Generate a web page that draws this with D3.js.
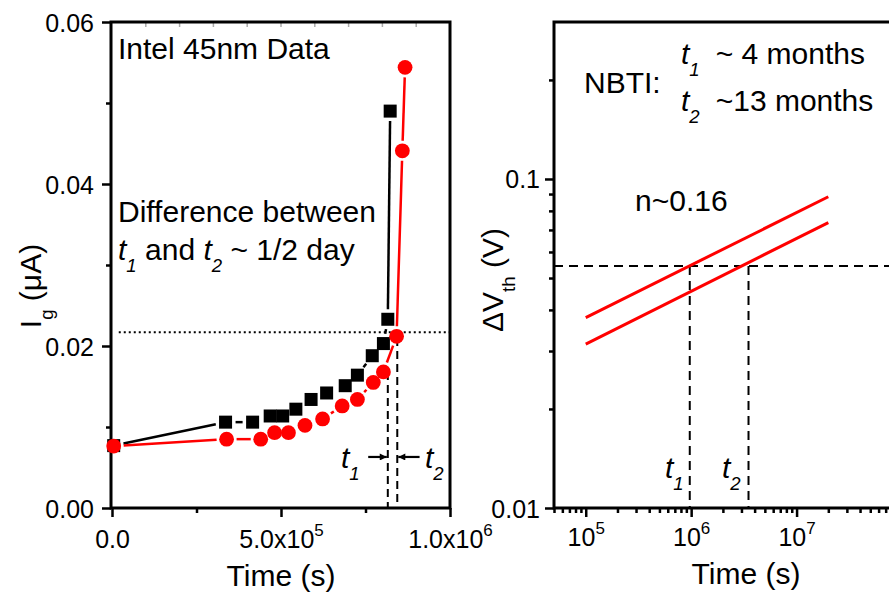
<!DOCTYPE html>
<html>
<head>
<meta charset="utf-8">
<script src="https://cdn.jsdelivr.net/npm/d3@7"></script>
<style>
body { margin: 0; background: #fff; }
text { font-family: "Liberation Sans", Arial, sans-serif; fill: #000; }
</style>
</head>
<body>
<svg id="chart" width="889" height="592"></svg>
<script>
// left panel: gate current vs stress time (Intel 45nm)
var timeBlack = [5e3, 3.36e5, 4.16e5, 4.68e5, 5.05e5, 5.44e5, 5.89e5, 6.35e5, 6.9e5, 7.26e5, 7.7e5, 8.03e5, 8.16e5, 8.23e5];
var igBlack   = [0.0077, 0.0106, 0.0106, 0.01136, 0.01136, 0.0122, 0.0134, 0.0142, 0.0151, 0.0164, 0.0188, 0.0203, 0.0233, 0.0490];
var timeRed   = [5e3, 3.39e5, 4.4e5, 4.81e5, 5.22e5, 5.71e5, 6.23e5, 6.81e5, 7.26e5, 7.73e5, 8.03e5, 8.42e5, 8.59e5, 8.67e5];
var igRed     = [0.00765, 0.0085, 0.0085, 0.0093, 0.0093, 0.0102, 0.0110, 0.0126, 0.0134, 0.0155, 0.0168, 0.0212, 0.0441, 0.0544];
var igLevel = 0.0217;
var t1Left = 8.16e5, t2Left = 8.44e5;
var t1LeftTop = 0.0168, t2LeftTop = 0.0210;

var igTicks = [0, 0.02, 0.04, 0.06];
var igTickLabels = ["0.00", "0.02", "0.04", "0.06"];
var igMinor = [0.01, 0.03, 0.05];
var timeTicks = [0, 5e5, 1e6];
var timeTickLabels = [["0.0", ""], ["5.0x10", "5"], ["1.0x10", "6"]];
var timeMinor = [2.5e5, 7.5e5];

// right panel: NBTI power-law fits
var timeFit   = [1e5, 2e7];
var dvthUpper = [0.0379, 0.0883];
var dvthLower = [0.0315, 0.0737];
var dvthLevel = 0.0544;
var t1Right = 9.7e5, t2Right = 3.5e6;

var logTimeTicks = [1e5, 1e6, 1e7];
var logTimeLabels = [["10", "5"], ["10", "6"], ["10", "7"]];
var dvthTicks = [0.01, 0.1];
var dvthTickLabels = ["0.01", "0.1"];

var svg = d3.select("#chart");
var fs = 30, tickFs = 25;

var xL = d3.scaleLinear().domain([0, 1e6]).range([112, 450]);
var yL = d3.scaleLinear().domain([0, 0.06]).range([508, 22]);
var xR = d3.scaleLog().domain([5e4, 1e8]).range([554, 902]);
var yR = d3.scaleLog().domain([0.01, 0.3]).range([508, 22]);

function styleAxis(g) {
	g.select(".domain").remove();
	g.selectAll(".tick line").attr("stroke", "#000").attr("stroke-width", 2.5);
}

// text made of runs: [string, "i" | "sub" | "isub" | "sup" | "", dx]
function richText(x, y, parts, size) {
	var t = svg.append("text").attr("x", x).attr("y", y).attr("font-size", size);
	var shift = 0;
	parts.forEach(function(p) {
		var s = t.append("tspan").text(p[0]);
		var want = 0;
		if (p[1] == "sub" || p[1] == "isub") want = size * 0.4;
		if (p[1] == "sup") want = -size * 0.45;
		if (p[1] == "sub" || p[1] == "isub" || p[1] == "sup") s.attr("font-size", size * 0.62);
		if (p[1] == "i" || p[1] == "isub") s.attr("font-style", "italic");
		if (want != shift) s.attr("dy", want - shift);
		if (p[2]) s.attr("dx", p[2]);
		shift = want;
	});
	return t;
}

// ---------- left panel ----------
var left = svg.append("g");

// faint inner ticks on the top edge
left.selectAll(".topTick")
	.data(d3.range(1, 10).map(function(k) { return k * 1e5; }))
	.enter()
	.append("line")
	.attr("x1", function(d) { return xL(d); })
	.attr("x2", function(d) { return xL(d); })
	.attr("y1", 23)
	.attr("y2", 27)
	.attr("stroke", "#aaa")
	.attr("stroke-width", 1.5);

left.append("g").attr("transform", "translate(0,508)")
	.call(d3.axisBottom(xL).tickValues(timeMinor).tickSize(5).tickFormat(""))
	.call(styleAxis);
var xAxisL = left.append("g").attr("transform", "translate(0,508)")
	.call(d3.axisBottom(xL).tickValues(timeTicks).tickSize(9).tickFormat(""))
	.call(styleAxis);
xAxisL.selectAll(".tick text").each(function(d, i) {
	var t = d3.select(this).attr("y", 40).attr("dy", null)
		.attr("font-size", tickFs).attr("fill", "#000").attr("font-family", null);
	t.append("tspan").text(timeTickLabels[i][0]);
	if (timeTickLabels[i][1]) t.append("tspan").attr("dy", -12).attr("font-size", 17).text(timeTickLabels[i][1]);
});

left.append("g").attr("transform", "translate(111,0)")
	.call(d3.axisLeft(yL).tickValues(igMinor).tickSize(5).tickFormat(""))
	.call(styleAxis);
var yAxisL = left.append("g").attr("transform", "translate(111,0)")
	.call(d3.axisLeft(yL).tickValues(igTicks).tickSize(9)
		.tickFormat(function(d, i) { return igTickLabels[i]; }))
	.call(styleAxis);
yAxisL.selectAll(".tick text").attr("x", -17).attr("dy", "0.36em")
	.attr("font-size", tickFs).attr("fill", "#000").attr("font-family", null);

left.append("rect")
	.attr("x", 111).attr("y", 22)
	.attr("width", 339).attr("height", 486)
	.attr("fill", "none").attr("stroke", "#000").attr("stroke-width", 3);

// reference level and crossing times
left.append("line")
	.attr("x1", xL(0.02e6)).attr("x2", xL(1e6))
	.attr("y1", yL(igLevel)).attr("y2", yL(igLevel))
	.attr("stroke", "#000").attr("stroke-width", 2).attr("stroke-dasharray", "2,3");
[[t1Left, t1LeftTop], [t2Left, t2LeftTop]].forEach(function(v) {
	left.append("line")
		.attr("x1", xL(v[0])).attr("x2", xL(v[0]))
		.attr("y1", yL(v[1])).attr("y2", yL(0))
		.attr("stroke", "#000").attr("stroke-width", 2).attr("stroke-dasharray", "8,5");
});

// data lines, drawn with gaps around the symbols
function gapLine(g, xs, ys, sx, sy, color, gap) {
	for (var i = 0; i < xs.length - 1; i++) {
		var x0 = sx(xs[i]), y0 = sy(ys[i]), x1 = sx(xs[i + 1]), y1 = sy(ys[i + 1]);
		var dx = x1 - x0, dy = y1 - y0, len = Math.sqrt(dx * dx + dy * dy);
		if (len <= 2 * gap) continue;
		var ux = dx / len, uy = dy / len;
		g.append("line")
			.attr("x1", x0 + ux * gap).attr("y1", y0 + uy * gap)
			.attr("x2", x1 - ux * gap).attr("y2", y1 - uy * gap)
			.attr("stroke", color).attr("stroke-width", 2.5);
	}
}
gapLine(left, timeBlack, igBlack, xL, yL, "#000", 10);
gapLine(left, timeRed, igRed, xL, yL, "#f00", 10);

left.selectAll(".sq")
	.data(timeBlack)
	.enter()
	.append("rect")
	.attr("x", function(d) { return xL(d) - 6.5; })
	.attr("y", function(d, i) { return yL(igBlack[i]) - 6.5; })
	.attr("width", 13)
	.attr("height", 13)
	.attr("fill", "#000");
left.selectAll(".dot")
	.data(timeRed)
	.enter()
	.append("circle")
	.attr("cx", function(d) { return xL(d); })
	.attr("cy", function(d, i) { return yL(igRed[i]); })
	.attr("r", 7.4)
	.attr("fill", "#f00");

// arrows towards t1 / t2
var defs = svg.append("defs");
defs.append("marker").attr("id", "head")
	.attr("viewBox", "0 0 10 10").attr("refX", 10).attr("refY", 5)
	.attr("markerWidth", 4).attr("markerHeight", 3.2).attr("orient", "auto")
	.append("path").attr("d", "M0,0L10,5L0,10z").attr("fill", "#000");
left.append("line")
	.attr("x1", xL(7.58e5)).attr("x2", xL(t1Left) - 1)
	.attr("y1", yL(0.0063)).attr("y2", yL(0.0063))
	.attr("stroke", "#000").attr("stroke-width", 2.2).attr("marker-end", "url(#head)");
left.append("line")
	.attr("x1", xL(9.1e5)).attr("x2", xL(t2Left) + 1)
	.attr("y1", yL(0.0063)).attr("y2", yL(0.0063))
	.attr("stroke", "#000").attr("stroke-width", 2.2).attr("marker-end", "url(#head)");

richText(341, 468, [["t", "i"], ["1", "isub"]], fs);
richText(425, 468, [["t", "i"], ["2", "isub"]], fs);

svg.append("text").attr("x", 118).attr("y", 59).attr("font-size", fs).text("Intel 45nm Data");
svg.append("text").attr("x", 118).attr("y", 222).attr("font-size", fs).text("Difference between");
richText(118, 260, [["t", "i"], ["1", "isub"], [" and ", ""], ["t", "i"], ["2", "isub"], [" ~ 1/2 day", ""]], fs);

svg.append("text").attr("x", 281).attr("y", 586).attr("font-size", fs)
	.attr("text-anchor", "middle").text("Time (s)");
richText(0, 0, [["I", ""], ["g", "sub"], [" (\u03bcA)", ""]], fs)
	.attr("text-anchor", "middle")
	.attr("transform", "translate(41,286) rotate(-90)");

// ---------- right panel ----------
var right = svg.append("g");

var minorX = [], minorY = [];
[1e4, 1e5, 1e6, 1e7].forEach(function(p) {
	for (var k = 2; k <= 9; k++) if (k * p >= 5e4 && k * p <= 1e8) minorX.push(k * p);
});
[0.01, 0.1].forEach(function(p) {
	for (var k = 2; k <= 9; k++) if (k * p <= 0.3) minorY.push(k * p);
});

right.append("g").attr("transform", "translate(0,508)")
	.call(d3.axisBottom(xR).tickValues(minorX).tickSize(5).tickFormat(""))
	.call(styleAxis);
var xAxisR = right.append("g").attr("transform", "translate(0,508)")
	.call(d3.axisBottom(xR).tickValues(logTimeTicks).tickSize(9).tickFormat(""))
	.call(styleAxis);
xAxisR.selectAll(".tick text").each(function(d, i) {
	var t = d3.select(this).attr("y", 38).attr("dy", null)
		.attr("font-size", tickFs).attr("fill", "#000").attr("font-family", null);
	t.append("tspan").text(logTimeLabels[i][0]);
	t.append("tspan").attr("dy", -12).attr("font-size", 17).text(logTimeLabels[i][1]);
});

right.append("g").attr("transform", "translate(554,0)")
	.call(d3.axisLeft(yR).tickValues(minorY).tickSize(5).tickFormat(""))
	.call(styleAxis);
var yAxisR = right.append("g").attr("transform", "translate(554,0)")
	.call(d3.axisLeft(yR).tickValues(dvthTicks).tickSize(9)
		.tickFormat(function(d, i) { return dvthTickLabels[i]; }))
	.call(styleAxis);
yAxisR.selectAll(".tick text").attr("x", -14).attr("dy", "0.36em")
	.attr("font-size", tickFs).attr("fill", "#000").attr("font-family", null);

right.append("path")
	.attr("d", "M900,22H554V508H900")
	.attr("fill", "none").attr("stroke", "#000").attr("stroke-width", 3);

right.append("line")
	.attr("x1", 554).attr("x2", 900)
	.attr("y1", yR(dvthLevel)).attr("y2", yR(dvthLevel))
	.attr("stroke", "#000").attr("stroke-width", 2).attr("stroke-dasharray", "9,6");
[t1Right, t2Right].forEach(function(t) {
	right.append("line")
		.attr("x1", xR(t)).attr("x2", xR(t))
		.attr("y1", yR(dvthLevel)).attr("y2", yR(0.01))
		.attr("stroke", "#000").attr("stroke-width", 2).attr("stroke-dasharray", "9,6");
});

var fitLine = d3.line()
	.x(function(d) { return xR(d[0]); })
	.y(function(d) { return yR(d[1]); });
[dvthUpper, dvthLower].forEach(function(s) {
	right.append("path")
		.attr("d", fitLine(timeFit.map(function(t, i) { return [t, s[i]]; })))
		.attr("fill", "none").attr("stroke", "#f00").attr("stroke-width", 3);
});

svg.append("text").attr("x", 584).attr("y", 93).attr("font-size", fs).text("NBTI:");
richText(681, 64, [["t", "i"], ["1", "isub"], ["~ 4 months", "", 16]], fs);
richText(681, 111, [["t", "i"], ["2", "isub"], ["~13 months", "", 16]], fs);
svg.append("text").attr("x", 635).attr("y", 211).attr("font-size", fs).text("n~0.16");
richText(665, 478, [["t", "i"], ["1", "isub"]], fs);
richText(722, 478, [["t", "i"], ["2", "isub"]], fs);

svg.append("text").attr("x", 746).attr("y", 584).attr("font-size", fs)
	.attr("text-anchor", "middle").text("Time (s)");
richText(0, 0, [["\u0394V", ""], ["th", "sub"], [" (V)", ""]], fs)
	.attr("text-anchor", "middle")
	.attr("transform", "translate(503,280) rotate(-90)");
</script>
</body>
</html>
